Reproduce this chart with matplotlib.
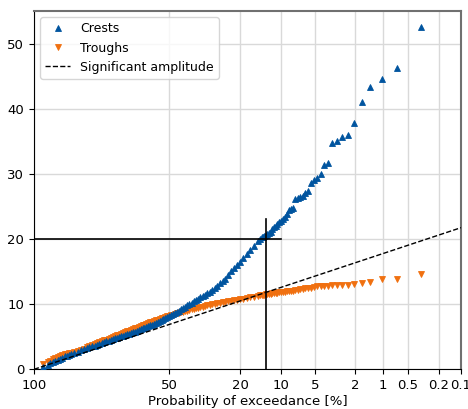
import numpy as np
import matplotlib
matplotlib.use('Agg')
import matplotlib.pyplot as plt

# exceedance probability [%] and amplitude for the crests
crest_prob = [99.66, 99.3, 99.0, 98.6, 98.3, 97.9, 97.5, 97.0, 96.5, 96.0, 95.5, 95,
              94, 93, 92, 91, 90, 89, 88, 87, 86, 85, 84, 83, 82, 81, 80, 79, 78, 77,
              76, 75, 74, 73, 72, 71, 70, 69, 68, 67, 66, 65, 64, 63, 62, 61, 60, 59,
              58, 57, 56, 55, 54, 53, 52, 51, 50, 49, 48, 47, 46, 45, 44, 43, 42, 41,
              40, 39, 38, 37, 36, 35, 34, 33, 32, 31, 30, 29, 28, 27, 26, 25, 24, 23,
              22, 21, 20, 19, 18, 17, 16, 15, 14.5, 14,
              13.70, 13.36, 13.01, 12.67, 12.33, 11.99, 11.64, 11.30, 10.96, 10.62,
              10.27, 9.93, 9.59, 9.25, 8.90, 8.56, 8.22, 7.88, 7.53, 7.19,
              6.85, 6.51, 6.16, 5.82, 5.48, 5.14, 4.79, 4.45, 4.11, 3.77,
              3.42, 3.08, 2.74, 2.40, 2.05, 1.71, 1.37, 1.03, 0.68, 0.34]
crest_amp = [0.4, 0.7, 0.95, 1.15, 1.27, 1.44, 1.6, 1.8, 1.98, 2.1, 2.23, 2.35,
             2.54, 2.73, 2.9, 3.06, 3.22, 3.37, 3.52, 3.65, 3.79, 3.92, 4.05, 4.17,
             4.3, 4.42, 4.54, 4.65, 4.75, 4.86, 4.96, 5.06, 5.16, 5.26, 5.36, 5.46,
             5.57, 5.68, 5.8, 5.91, 6.03, 6.15, 6.27, 6.39, 6.52, 6.63, 6.76, 6.88,
             7.0, 7.13, 7.25, 7.37, 7.53, 7.68, 7.83, 7.98, 8.14, 8.31, 8.49, 8.67,
             8.85, 9.03, 9.22, 9.43, 9.64, 9.84, 10.05, 10.25, 10.45, 10.64, 10.85,
             11.05, 11.25, 11.46, 11.68, 11.89, 12.18, 12.48, 12.82, 13.19, 13.56,
             13.94, 14.55, 15.14, 15.56, 16.0, 16.5, 17.1, 17.7, 18.35, 19.0, 19.65,
             20.05, 20.25,
             20.35, 20.45, 20.6, 20.75, 20.9, 21.1, 21.5, 21.8, 22.05, 22.3,
             22.55, 22.8, 23.1, 23.4, 23.9, 24.4, 24.6, 24.8, 26.2, 26.3,
             26.5, 26.6, 27.0, 27.3, 28.6, 29.0, 29.3, 30.0, 31.3, 31.6,
             34.7, 35.1, 35.6, 35.9, 37.8, 41.1, 43.3, 44.6, 46.3, 52.6]

# exceedance probability [%] and amplitude for the troughs
trough_prob = list(crest_prob)
trough_amp = [0.8, 1.12, 1.32, 1.54, 1.69, 1.86, 2.02, 2.21, 2.32, 2.41, 2.49, 2.57,
              2.72, 2.86, 2.99, 3.19, 3.36, 3.54, 3.7, 3.85, 4.0, 4.15, 4.3, 4.43,
              4.57, 4.7, 4.84, 4.96, 5.09, 5.22, 5.34, 5.47, 5.59, 5.71, 5.82, 5.95,
              6.07, 6.18, 6.29, 6.41, 6.53, 6.64, 6.76, 6.87, 6.98, 7.09, 7.21, 7.3,
              7.4, 7.5, 7.6, 7.7, 7.81, 7.91, 8.01, 8.11, 8.21, 8.3, 8.39, 8.48,
              8.57, 8.66, 8.75, 8.85, 8.94, 9.03, 9.13, 9.21, 9.3, 9.37, 9.46, 9.54,
              9.63, 9.72, 9.81, 9.9, 9.97, 10.04, 10.12, 10.2, 10.28, 10.36, 10.44,
              10.53, 10.61, 10.69, 10.78, 10.87, 10.96, 11.06, 11.17, 11.28, 11.34,
              11.4,
              11.43, 11.46, 11.5, 11.53, 11.57, 11.61, 11.65, 11.68, 11.72, 11.76,
              11.8, 11.84, 11.88, 11.93, 11.97, 12.0, 12.05, 12.1, 12.15, 12.22,
              12.3, 12.35, 12.42, 12.5, 12.55, 12.7, 12.75, 12.78, 12.8, 12.85,
              12.87, 12.9, 12.97, 13.0, 13.1, 13.3, 13.4, 13.85, 13.85, 14.65]

sig_amp = 11.7          # significant amplitude
p_marker = 13.1         # probability where the crests reach 20
a_marker = 20.0

xticks = [100, 50, 20, 10, 5, 2, 1, 0.5, 0.2, 0.1]
xticklabels = ['100', '50', '20', '10', '5', '2', '1', '0.5', '0.2', '0.1']


# Rayleigh probability paper: -sqrt(ln(1/p)), increasing in p
def rayleigh_fwd(p):
    p = np.clip(np.asarray(p, dtype=float), 1e-9, 100.0)
    return -np.sqrt(-np.log(p / 100.0))


def rayleigh_inv(x):
    x = np.minimum(np.asarray(x, dtype=float), 0.0)
    return 100.0 * np.exp(-x ** 2)


fig = plt.figure(figsize=(4.68, 4.09), dpi=100)
ax = fig.add_axes([0.0726, 0.097, 0.9124, 0.876])
ax.set_xscale('function', functions=(rayleigh_fwd, rayleigh_inv))

ax.plot(crest_prob, crest_amp, '^', color='#00549f', ms=4.5, mew=0.6,
        label='Crests', zorder=4)
ax.plot(trough_prob, trough_amp, 'v', color='#f07010', ms=4.5, mew=0.6,
        label='Troughs', zorder=3)

# Rayleigh line for the significant amplitude
p_line = np.array([100.0, 0.1])
a_line = sig_amp * np.sqrt(np.log(100.0 / p_line) / 2.0)
ax.plot(p_line, a_line, 'k--', lw=1, label='Significant amplitude', zorder=5)

ax.plot([100, 10], [a_marker, a_marker], 'k-', lw=1.2, zorder=6)
ax.plot([p_marker, p_marker], [0, a_marker + 3], 'k-', lw=1.2, zorder=6)

ax.set_xlim(100, 0.1)
ax.set_ylim(0, 55)
ax.set_xticks(xticks)
ax.set_xticklabels(xticklabels)
ax.xaxis.set_minor_locator(matplotlib.ticker.NullLocator())
ax.set_yticks([0, 10, 20, 30, 40, 50])
ax.grid(True, color='#d9d9d9', lw=1)
ax.set_axisbelow(True)
ax.tick_params(labelsize=9.5)

ax.spines['left'].set_color('black')
ax.spines['bottom'].set_color('black')
ax.spines['top'].set_color('#707070')
ax.spines['right'].set_color('#707070')
for s in ['top', 'right']:
    ax.spines[s].set_linewidth(1.5)

ax.set_xlabel('Probability of exceedance [%]', fontsize=9.5, labelpad=2)
ax.legend(loc='upper left', fontsize=9)

fig.savefig('out.png', dpi=100)
